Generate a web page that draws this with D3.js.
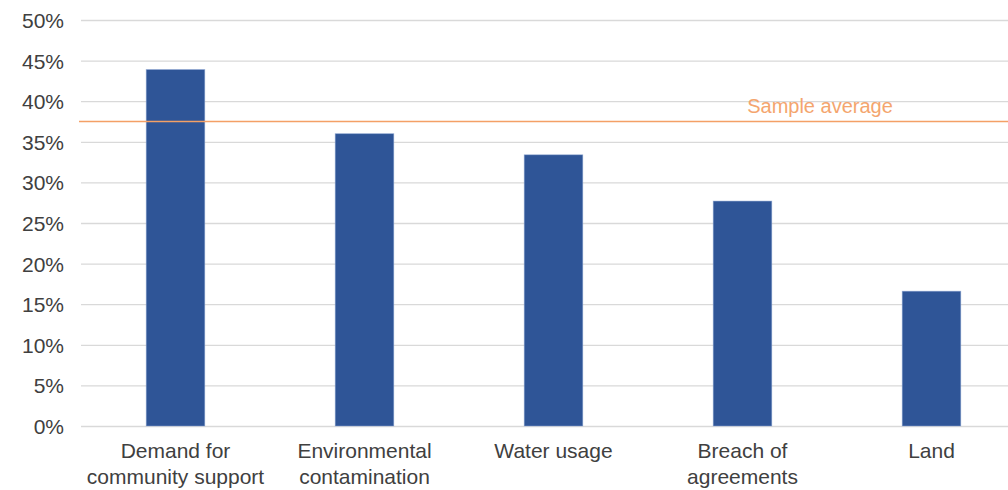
<!DOCTYPE html>
<html>
<head>
<meta charset="utf-8">
<script src="https://cdn.jsdelivr.net/npm/d3@7"></script>
<style>
  html, body { margin: 0; padding: 0; background: #ffffff; }
  svg { display: block; }
  text { font-family: "Liberation Sans", Arial, sans-serif; }
</style>
</head>
<body>
<svg id="chart" width="1008" height="490"></svg>
<script>
// Share of respondents citing each issue
const categories = [
  ["Demand for", "community support"],
  ["Environmental", "contamination"],
  ["Water usage"],
  ["Breach of", "agreements"],
  ["Land"]
];
const shares = [0.439, 0.360, 0.334, 0.277, 0.166];
const sampleAverage = 0.375;
const sampleAverageLabel = "Sample average";
const yTicks = [0, 0.05, 0.10, 0.15, 0.20, 0.25, 0.30, 0.35, 0.40, 0.45, 0.50];

const svg = d3.select("#chart");
const keys = categories.map(c => c.join(" "));

const x = d3.scaleBand()
  .domain(keys)
  .range([81, 1026])
  .paddingInner(0.69)
  .paddingOuter(0.345);

const y = d3.scaleLinear()
  .domain([0, 0.5])
  .range([426, 20]);

// Horizontal gridlines and percentage labels
const yAxis = d3.axisLeft(y)
  .tickValues(yTicks)
  .tickFormat(d3.format(".0%"))
  .tickSize(-(1026 - 81))
  .tickPadding(17);

const gy = svg.append("g")
  .attr("transform", "translate(81,0)")
  .call(yAxis);
gy.select(".domain").remove();
gy.selectAll(".tick line")
  .attr("stroke", "#d9d9d9")
  .attr("stroke-width", 1.3);
gy.selectAll(".tick text")
  .attr("fill", "#404040")
  .attr("font-size", 21)
  .attr("dy", "0.36em");

// Bars
svg.append("g")
  .selectAll("rect")
  .data(shares)
  .join("rect")
  .attr("x", (d, i) => x(keys[i]))
  .attr("width", x.bandwidth())
  .attr("y", d => y(d))
  .attr("height", d => y(0) - y(d))
  .attr("fill", "#2f5597")
  .attr("stroke", "#8da6d4")
  .attr("stroke-opacity", 0.6)
  .attr("stroke-width", 0.8);

// Sample average reference line
svg.append("line")
  .attr("x1", 79)
  .attr("x2", 1008)
  .attr("y1", y(sampleAverage))
  .attr("y2", y(sampleAverage))
  .attr("stroke", "#f4a066")
  .attr("stroke-width", 1.6);

svg.append("text")
  .attr("x", 820)
  .attr("y", y(sampleAverage) - 8.5)
  .attr("text-anchor", "middle")
  .attr("font-size", 20)
  .attr("fill", "#f4a56e")
  .text(sampleAverageLabel);

// Category labels (one or two lines each)
const labels = svg.append("g")
  .selectAll("text")
  .data(categories)
  .join("text")
  .attr("text-anchor", "middle")
  .attr("font-size", 21)
  .attr("fill", "#404040")
  .attr("x", (d, i) => x(keys[i]) + x.bandwidth() / 2)
  .attr("y", 458);

labels.selectAll("tspan")
  .data(d => d)
  .join("tspan")
  .attr("x", function () { return d3.select(this.parentNode).attr("x"); })
  .attr("dy", (d, i) => i === 0 ? 0 : 26)
  .text(d => d);
</script>
</body>
</html>
